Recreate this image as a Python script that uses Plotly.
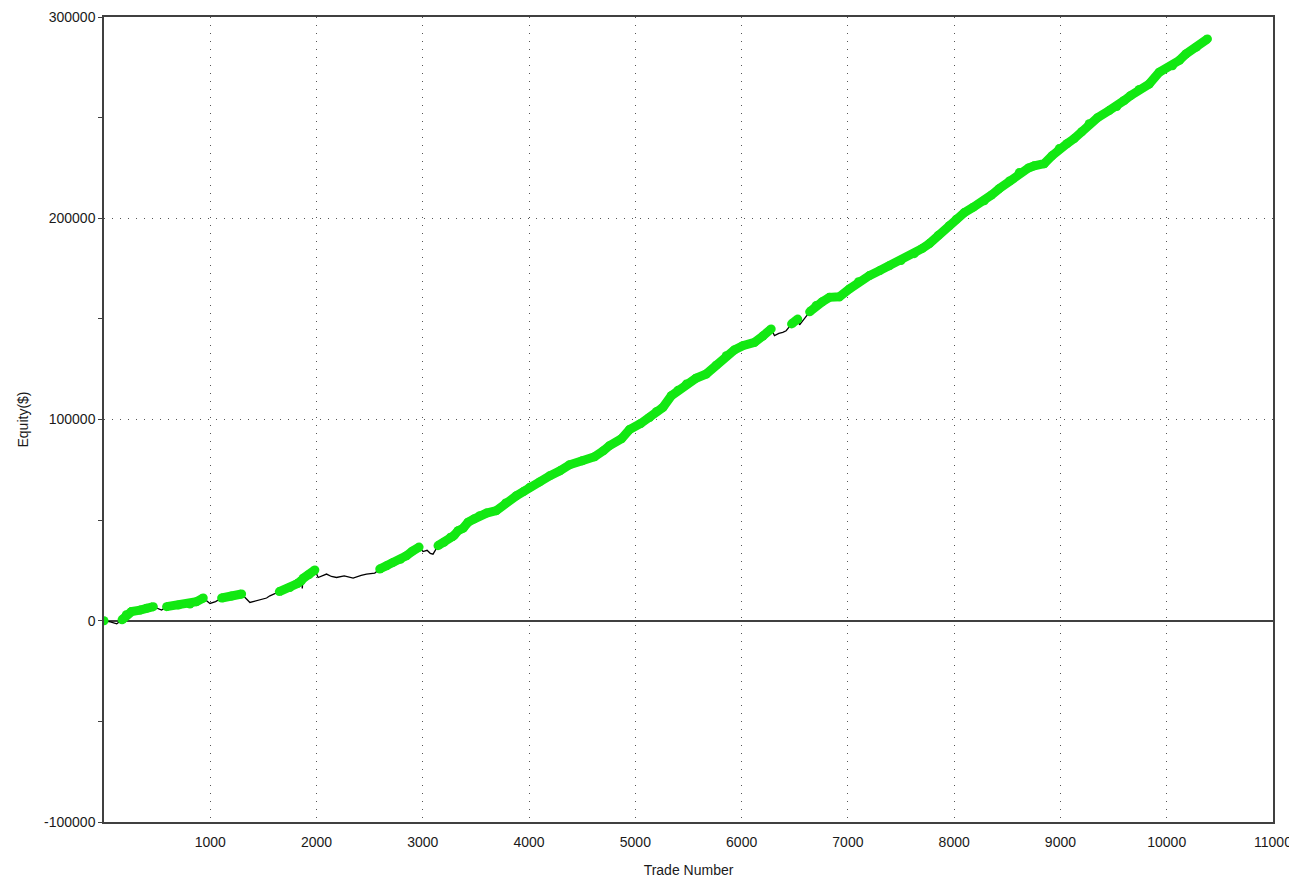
import plotly.graph_objects as go

# Equity curve (trade number, equity in $)
trades = [0, 60, 120, 170, 210, 260, 340, 400, 464, 542, 589, 700, 809, 870, 934, 997, 1050, 1107,
          1200, 1295, 1373, 1450, 1530, 1561, 1650, 1749, 1820, 1860, 1866, 1872, 1930, 1984, 2015,
          2094, 2140, 2188, 2260, 2344, 2420, 2470, 2548, 2595, 2660, 2720, 2790, 2846, 2900, 2965,
          3002, 3040, 3070, 3096, 3143, 3200, 3260, 3284, 3290, 3296, 3331, 3380, 3425, 3480, 3535,
          3600, 3692, 3780, 3880, 3950, 4005, 4100, 4193, 4290, 4381, 4500, 4616, 4700, 4757, 4870,
          4945, 5050, 5134, 5200, 5259, 5338, 5400, 5479, 5570, 5667, 5760, 5855, 5930, 6011, 6121,
          6200, 6278, 6309, 6350, 6387, 6419, 6470, 6528, 6545, 6575, 6640, 6700, 6760, 6826, 6920,
          7014, 7100, 7202, 7300, 7390, 7500, 7625, 7700, 7766, 7850, 7954, 8020, 8095, 8180, 8283,
          8350, 8424, 8520, 8612, 8700, 8753, 8847, 8920, 8988, 9060, 9129, 9200, 9270, 9350, 9458,
          9530, 9599, 9662, 9740, 9835, 9929, 10054, 10120, 10180, 10280, 10383]
equity = [0, -500, -1500, 500, 3000, 4600, 5300, 6200, 7000, 5300, 7000, 7800, 8300, 9500, 11300, 8600,
          9500, 11300, 12300, 13300, 9100, 10300, 11300, 12400, 14500, 16500, 18500, 20000, 16000,
          21000, 23000, 25200, 21500, 23200, 22000, 21500, 22300, 21200, 22500, 23200, 23700, 25700,
          27300, 29000, 30500, 32300, 34500, 36600, 34400, 35000, 33500, 33100, 37300, 39000, 41500,
          42000, 39800, 42500, 44700, 46000, 48900, 50500, 52200, 53500, 54700, 58500, 62100, 64300,
          66300, 69000, 72000, 74500, 77500, 79500, 81500, 84500, 87000, 90500, 95000, 98000, 101000,
          104000, 106000, 111800, 114500, 117600, 120500, 122600, 127000, 131700, 134500, 136700,
          138300, 141500, 145000, 141700, 142800, 143300, 144100, 147500, 149900, 147000, 149100,
          153500, 156600, 158500, 160700, 161000, 164900, 168500, 171500, 174000, 176400, 179000,
          182400, 185000, 187400, 191500, 196300, 199500, 202800, 205500, 208700, 211500, 214700,
          218500, 222700, 225000, 226100, 227100, 231000, 234600, 237000, 239600, 243000, 247000,
          250000, 253500, 255500, 258500, 261000, 264000, 266700, 272500, 275800, 278500, 281600,
          285000, 289100]

x_ticks = [1000, 2000, 3000, 4000, 5000, 6000, 7000, 8000, 9000, 10000, 11000]
y_ticks = [-100000, 0, 100000, 200000, 300000]

# New equity highs (green)
run_max = float("-inf")
high_y = []
for v in equity:
    if v >= run_max:
        run_max = v
        high_y.append(v)
    else:
        high_y.append(None)

GREEN = "#12E812"
AX = "#404040"
FONT = dict(family="Liberation Sans, Arial, sans-serif", size=14, color="#1a1a1a")

fig = go.Figure()
fig.add_trace(go.Scatter(x=trades, y=equity, mode="lines",
                         line=dict(color="black", width=1.3), showlegend=False, hoverinfo="skip"))
fig.add_trace(go.Scatter(x=trades, y=high_y, mode="lines+markers",
                         line=dict(color=GREEN, width=9), marker=dict(color=GREEN, size=9),
                         connectgaps=False, showlegend=False))

grid_dash = "1px,7px"
fig.update_layout(
    width=1289, height=870,
    margin=dict(l=96, r=24, t=9, b=56),
    paper_bgcolor="white", plot_bgcolor="white",
    font=FONT,
    xaxis=dict(range=[0, 11000], tickvals=x_ticks, ticktext=[str(v) for v in x_ticks], ticks="",
               ticklabelstandoff=6, showline=True, mirror=True, automargin=False,
               linecolor=AX, linewidth=1.5, showgrid=True, gridcolor="#555555", gridwidth=1,
               griddash=grid_dash, zeroline=False,
               title=dict(text="Trade Number", font=FONT, standoff=20)),
    yaxis=dict(range=[-100000, 300000], tickvals=y_ticks, ticktext=[str(v) for v in y_ticks],
               ticks="outside", ticklen=4, automargin=False,
               tickcolor=AX, showline=True, mirror=True, linecolor=AX, linewidth=1.5,
               showgrid=True, gridcolor="#555555", gridwidth=1, griddash=grid_dash,
               zeroline=True, zerolinecolor=AX, zerolinewidth=1.5,
               minor=dict(dtick=50000, ticks="outside", ticklen=4, tickcolor=AX, showgrid=False),
               title=dict(text="Equity($)", font=FONT, standoff=12)),
    xaxis2=dict(range=[0, 11000], overlaying="x", anchor="free", position=0.25, dtick=500, tick0=0,
                ticks="outside", ticklen=4, tickcolor=AX, showticklabels=False, showgrid=False,
                zeroline=False, showline=False, automargin=False),
    xaxis3=dict(range=[0, 11000], overlaying="x", anchor="free", position=0.25, dtick=500, tick0=0,
                ticks="inside", ticklen=4, tickcolor=AX, showticklabels=False, showgrid=False,
                zeroline=False, showline=False, automargin=False),
    yaxis2=dict(range=[-100000, 300000], overlaying="y", anchor="x", side="left", dtick=50000,
                tick0=0, ticks="inside", ticklen=4, tickcolor=AX, showticklabels=False,
                showgrid=False, zeroline=False, showline=False, automargin=False),
)

fig.write_html("out.html")
